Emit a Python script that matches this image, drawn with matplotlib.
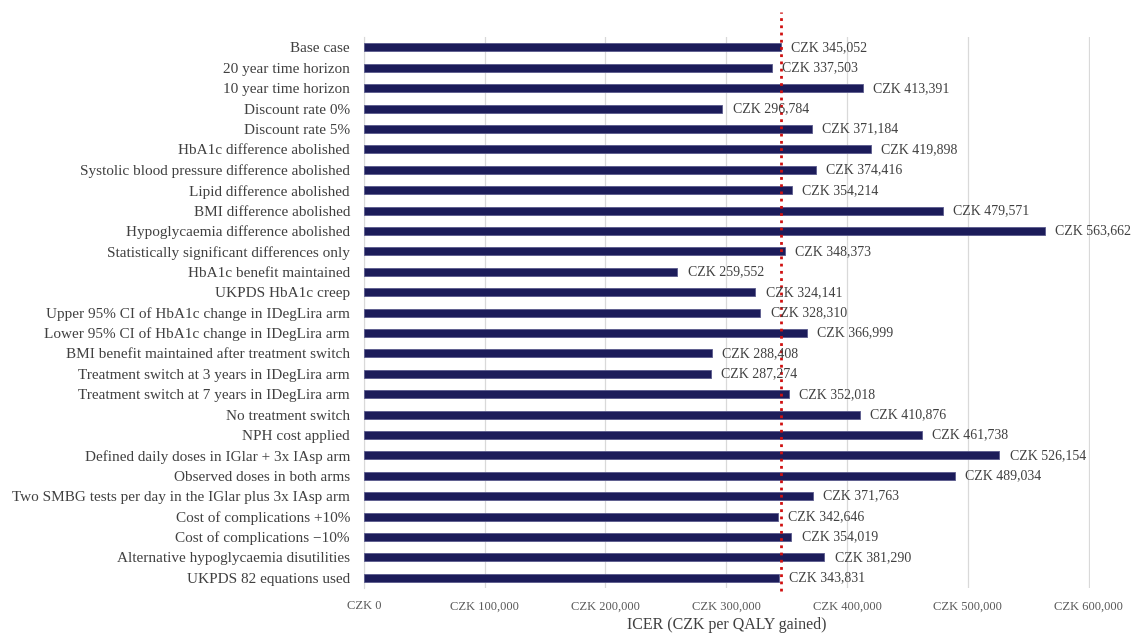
import matplotlib.pyplot as plt
from matplotlib.ticker import FuncFormatter

# Scenario names and incremental cost-effectiveness ratios (CZK per QALY gained)
scenarios = [
    "Base case",
    "20 year time horizon",
    "10 year time horizon",
    "Discount rate 0%",
    "Discount rate 5%",
    "HbA1c difference abolished",
    "Systolic blood pressure difference abolished",
    "Lipid difference abolished",
    "BMI difference abolished",
    "Hypoglycaemia difference abolished",
    "Statistically significant differences only",
    "HbA1c benefit maintained",
    "UKPDS HbA1c creep",
    "Upper 95% CI of HbA1c change in IDegLira arm",
    "Lower 95% CI of HbA1c change in IDegLira arm",
    "BMI benefit maintained after treatment switch",
    "Treatment switch at 3 years in IDegLira arm",
    "Treatment switch at 7 years in IDegLira arm",
    "No treatment switch",
    "NPH cost applied",
    "Defined daily doses in IGlar + 3x IAsp arm",
    "Observed doses in both arms",
    "Two SMBG tests per day in the IGlar plus 3x IAsp arm",
    "Cost of complications +10%",
    "Cost of complications \u221210%",
    "Alternative hypoglycaemia disutilities",
    "UKPDS 82 equations used",
]
icer = [
    345052, 337503, 413391, 296784, 371184, 419898, 374416, 354214, 479571,
    563662, 348373, 259552, 324141, 328310, 366999, 288408, 287274, 352018,
    410876, 461738, 526154, 489034, 371763, 342646, 354019, 381290, 343831,
]
x_ticks = [0, 100000, 200000, 300000, 400000, 500000, 600000]
base_case = icer[0]

plt.rcParams["font.family"] = ["Liberation Serif", "DejaVu Serif"]

fig = plt.figure(figsize=(11.37, 6.36), dpi=100)
ax = fig.add_axes([0.320, 0.0755, 0.6385, 0.866])

y = list(range(len(scenarios)))
ax.barh(y, icer, height=0.4, color="#1c1c5a", edgecolor="#5a5a8c", linewidth=0.6, zorder=3)

for yi, v in zip(y, icer):
    ax.text(v + 8500, yi, f"CZK {v:,}", va="center", ha="left",
            fontsize=10, color="#404040", zorder=5)

# base case reference line, running a little above the plot area
ax.axvline(base_case, ymin=-0.005, ymax=1.045, color="#d01010", linestyle=(0, (1, 1.6)),
           linewidth=2.0, clip_on=False, zorder=4)

ax.set_ylim(len(scenarios) - 0.5, -0.5)
ax.set_xlim(0, 601000)
ax.set_yticks(y)
ax.set_yticklabels(scenarios, fontsize=11, color="#404040")
ax.set_xticks(x_ticks)
ax.xaxis.set_major_formatter(FuncFormatter(lambda v, p: f"CZK {int(v):,}"))
ax.tick_params(axis="x", labelsize=9, colors="#595959", length=0, pad=9)
ax.tick_params(axis="y", length=0, pad=10)
ax.grid(axis="x", color="#d9d9d9", linewidth=0.9, zorder=0)

for side in ["top", "right", "bottom"]:
    ax.spines[side].set_visible(False)
ax.spines["left"].set_color("#d9d9d9")

ax.set_xlabel("ICER (CZK per QALY gained)", fontsize=11.5, color="#404040", labelpad=3)

fig.savefig("out.png", dpi=100)
